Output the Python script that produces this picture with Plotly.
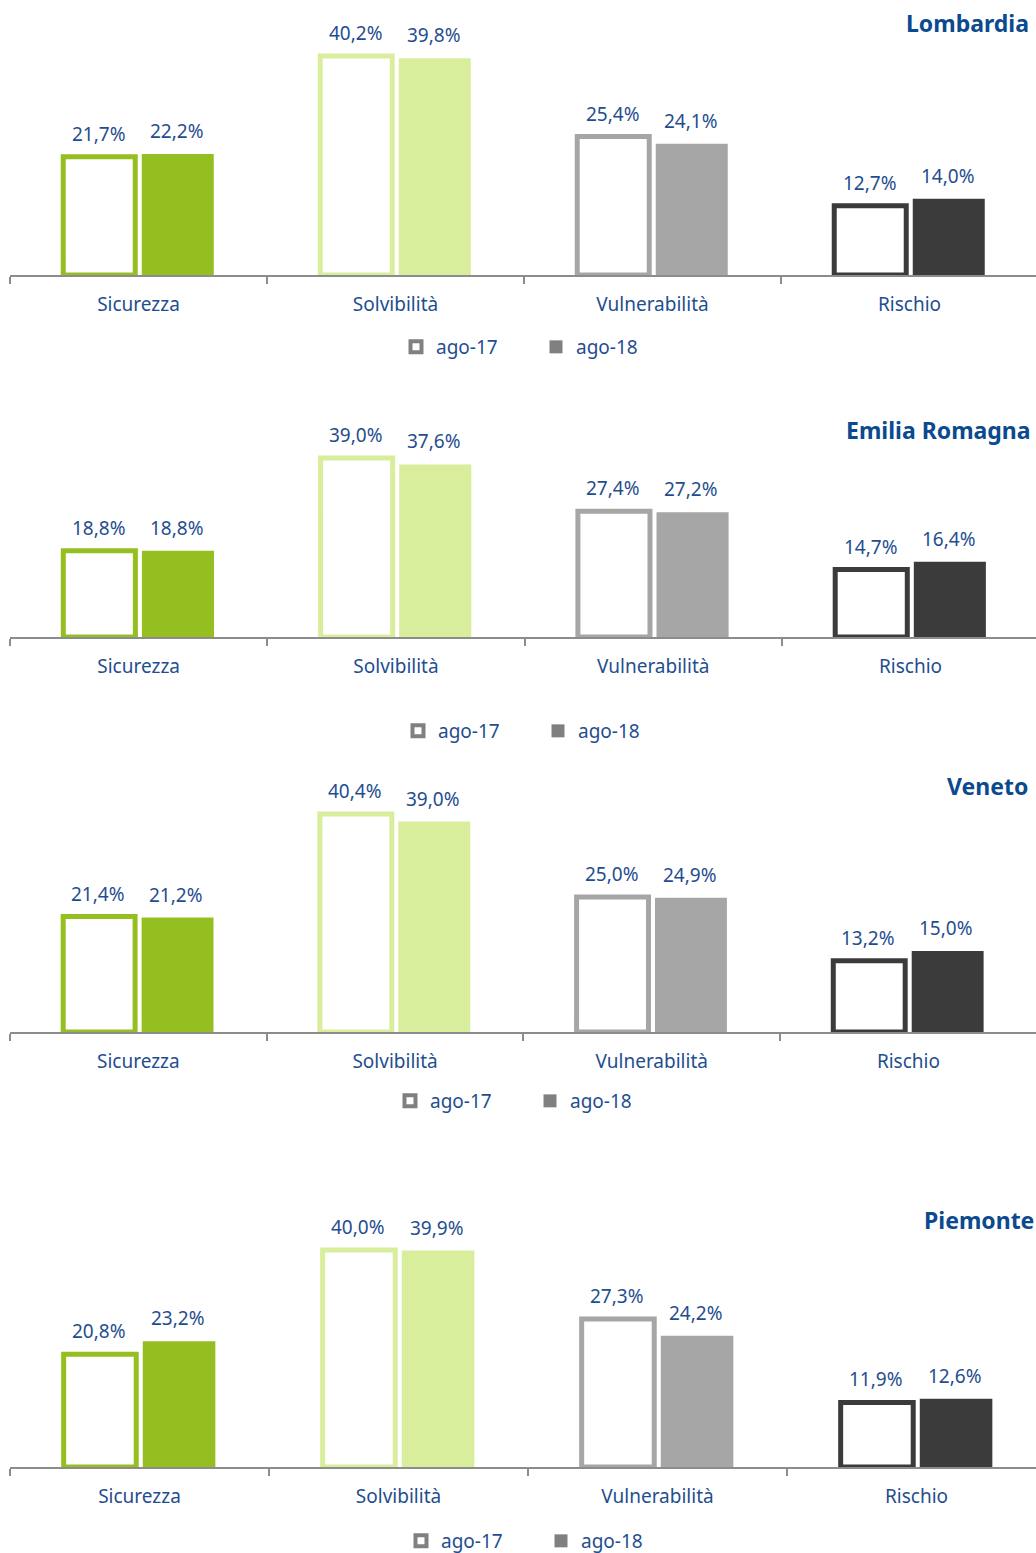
import plotly.graph_objects as go

categories = ["Sicurezza", "Solvibilità", "Vulnerabilità", "Rischio"]
regions = ["Lombardia", "Emilia Romagna", "Veneto", "Piemonte"]
series_names = ["ago-17", "ago-18"]

ago17_lombardia = [21.7, 40.2, 25.4, 12.7]
ago18_lombardia = [22.2, 39.8, 24.1, 14.0]
ago17_emilia = [18.8, 39.0, 27.4, 14.7]
ago18_emilia = [18.8, 37.6, 27.2, 16.4]
ago17_veneto = [21.4, 40.4, 25.0, 13.2]
ago18_veneto = [21.2, 39.0, 24.9, 15.0]
ago17_piemonte = [20.8, 40.0, 27.3, 11.9]
ago18_piemonte = [23.2, 39.9, 24.2, 12.6]

data17 = [ago17_lombardia, ago17_emilia, ago17_veneto, ago17_piemonte]
data18 = [ago18_lombardia, ago18_emilia, ago18_veneto, ago18_piemonte]

# ---- style / layout constants ----
W, H = 1036, 1553
FONT = "Noto Sans"
BLUE = "#1F4E8F"
TITLE_BLUE = "#0B4A8E"
CAT_COLORS = ["#95BF20", "#D9EE9C", "#A6A6A6", "#3B3B3B"]
AXIS_GRAY = "#8C8C8C"
LEG_GRAY = "#808080"

# per panel pixel geometry: baseline y, px per %, category width px, title y, title right x, legend y, legend x center
panels = [
    dict(base=275, scale=5.448, cw=257.0, ty=23, tx=1031, ly=347, lx=536),
    dict(base=637, scale=4.59, cw=257.3, ty=430, tx=1033, ly=731, lx=538),
    dict(base=1032, scale=5.396, cw=256.7, ty=786, tx=1030, ly=1101, lx=530),
    dict(base=1467, scale=5.425, cw=259.0, ty=1220, tx=1036, ly=1541, lx=541),
]
YMAX = 45.0
X0 = 10

def py(px):
    return 1 - px / H

def fmt(v):
    return f"{v:.1f}".replace(".", ",") + "%"

fig = go.Figure()
annotations = []
layout_axes = {}

for i, p in enumerate(panels):
    k = "" if i == 0 else str(i + 1)
    xa, ya = "x" + k, "y" + k
    top = p["base"] - YMAX * p["scale"]
    rng_len = (W - X0) / p["cw"]
    layout_axes["xaxis" + k] = dict(
        domain=[X0 / W, 1], anchor=ya, type="category",
        range=[-0.5, -0.5 + rng_len], showgrid=False, zeroline=False,
        showline=True, linecolor=AXIS_GRAY, linewidth=1.5,
        ticks="outside", tickson="boundaries", ticklen=7, tickwidth=1.5,
        tickcolor=AXIS_GRAY, layer="below traces",
        tickfont=dict(family=FONT, size=19, color=BLUE),
        ticklabelstandoff=11, fixedrange=True,
    )
    layout_axes["yaxis" + k] = dict(
        domain=[py(p["base"]), py(top)], anchor=xa, range=[0, YMAX],
        visible=False, fixedrange=True,
    )
    fig.add_trace(go.Bar(
        x=categories, y=data17[i], name=series_names[0], xaxis=xa, yaxis=ya,
        marker=dict(color="white", line=dict(color=CAT_COLORS, width=5)),
        showlegend=False, hoverinfo="skip",
    ))
    fig.add_trace(go.Bar(
        x=categories, y=data18[i], name=series_names[1], xaxis=xa, yaxis=ya,
        marker=dict(color=CAT_COLORS, line=dict(width=0)),
        showlegend=False, hoverinfo="skip",
    ))
    leg = "legend" + k
    fig.add_trace(go.Scatter(
        x=[None], y=[None], xaxis=xa, yaxis=ya, mode="markers", name=series_names[0],
        legend=leg, marker=dict(symbol="square", size=11, color="white",
                                line=dict(color=LEG_GRAY, width=4)),
    ))
    fig.add_trace(go.Scatter(
        x=[None], y=[None], xaxis=xa, yaxis=ya, mode="markers", name=series_names[1],
        legend=leg, marker=dict(symbol="square", size=13, color=LEG_GRAY, line=dict(width=0)),
    ))
    layout_axes[leg] = dict(
        orientation="h", xanchor="center", yanchor="middle",
        x=p["lx"] / W, y=py(p["ly"]), bgcolor="rgba(0,0,0,0)",
        font=dict(family=FONT, size=19, color=BLUE),
        itemwidth=30, entrywidth=95, tracegroupgap=0,
    )
    # value labels
    for series, shift in ((data17[i], -40), (data18[i], 38)):
        for c, v in zip(categories, series):
            annotations.append(dict(
                x=c, y=v, xref=xa, yref=ya, text=fmt(v), showarrow=False,
                xshift=shift * p["cw"] / 257, yshift=23, yanchor="middle",
                font=dict(family=FONT, size=19, color=BLUE),
            ))
    # region title
    annotations.append(dict(
        x=p["tx"] / W, y=py(p["ty"]), xref="paper", yref="paper",
        text="<b>" + regions[i] + "</b>", showarrow=False,
        xanchor="right", yanchor="middle",
        font=dict(family=FONT, size=23, color=TITLE_BLUE),
    ))

fig.update_layout(
    width=W, height=H, margin=dict(l=0, r=0, t=0, b=0, autoexpand=False),
    paper_bgcolor="white", plot_bgcolor="white",
    barmode="group", bargap=0.389, bargroupgap=0.083,
    annotations=annotations, **layout_axes,
)

fig.write_html("out.html")
